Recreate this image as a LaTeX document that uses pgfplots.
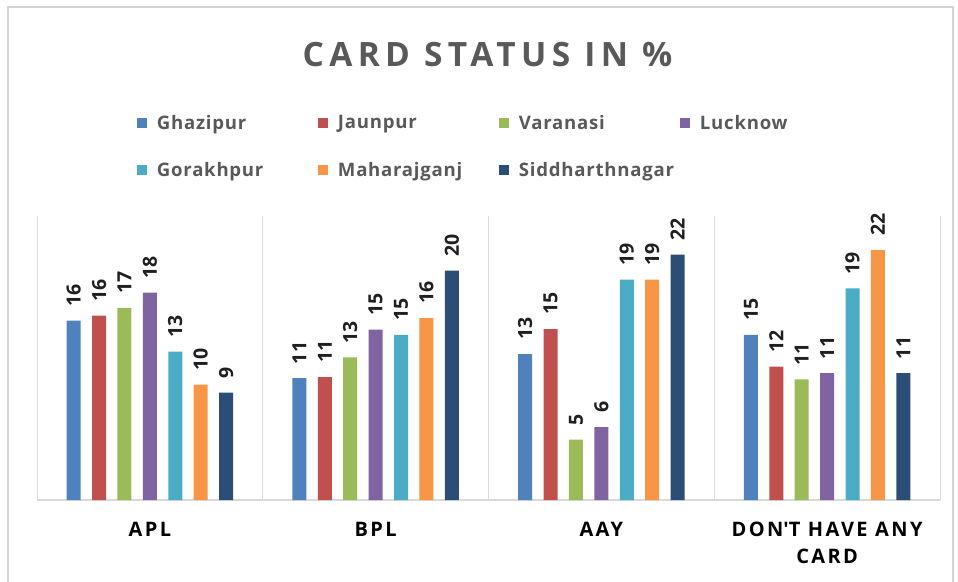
\documentclass[border=0pt]{standalone}
\usepackage{fontspec}
\setmainfont{Open Sans}
\newfontfamily\titlefont[LetterSpace=16]{Open Sans}
\newfontfamily\catfont[LetterSpace=12]{Open Sans}
\newfontfamily\legfont[LetterSpace=4]{Open Sans}
\usepackage{pgfplots}
\usepackage{pgfplotstable}
\pgfplotsset{compat=1.18}

\definecolor{cGh}{HTML}{4F81BD}
\definecolor{cJa}{HTML}{C0504D}
\definecolor{cVa}{HTML}{9BBB59}
\definecolor{cLu}{HTML}{8064A2}
\definecolor{cGo}{HTML}{4BACC6}
\definecolor{cMa}{HTML}{F79646}
\definecolor{cSi}{HTML}{2C4D75}
\definecolor{axisgray}{HTML}{D9D9D9}
\definecolor{framegray}{HTML}{D4D4D4}
\definecolor{titlegray}{HTML}{595959}
\definecolor{labelcol}{HTML}{1F1F1F}

\pgfplotstableread{
x Gh Ja Va Lu Go Ma Si
0 15.80 16.24 16.92 18.26 13.07 10.16 9.45
1 10.72 10.81 12.55 15.00 14.54 16.01 20.20
2 12.84 15.04 5.31 6.41 19.41 19.41 21.60
3 14.54 11.74 10.62 11.16 18.62 22.00 11.16
}\datatable

\begin{document}
\begin{tikzpicture}
\useasboundingbox (0,0) rectangle (958pt,581pt);
\draw[framegray, line width=1.5pt] (8pt,-5pt) -- (8pt,574pt) -- (953pt,574pt) -- (953pt,-5pt);
\node[font=\titlefont\bfseries\fontsize{33.5}{40}\selectfont, text=titlegray, anchor=base] at (487.5pt,514pt) {CARD STATUS IN \%};
\begin{axis}[
  at={(37pt,81pt)}, anchor=south west,
  scale only axis, width=903pt, height=284pt,
  xmin=-0.5, xmax=3.5, ymin=0, ymax=25,
  ybar, bar width=0.062,
  axis y line=none,
  axis x line*=bottom,
  x axis line style={draw=axisgray, line width=1.2pt},
  xtick={0,1,2,3},
  xticklabels={APL,BPL,AAY,{DON\textquotesingle T HAVE ANY\\CARD}},
  xticklabel style={font=\catfont\bfseries\fontsize{20}{26.5}\selectfont, align=center, text=black, inner sep=0pt, yshift=-22pt},
  major tick length=0pt,
  extra x ticks={-0.5,0.5,1.5,2.5,3.5},
  extra x tick labels={},
  extra x tick style={grid=major, major grid style={draw=axisgray, line width=1pt}},
  /pgf/number format/assume math mode=true,
  point meta=y,
  nodes near coords={\pgfmathprintnumber[fixed,precision=0]{\pgfplotspointmeta}},
  every node near coord/.append style={yshift=14pt, rotate=90, anchor=west, inner sep=0pt, font=\bfseries\fontsize{19.5}{22}\selectfont, text=labelcol},
  legend columns=4,
  legend cell align=left,
  legend image code/.code={\fill[#1] (0pt,-5pt) rectangle (10pt,5pt);},
  legend style={draw=none, fill=none, inner sep=0pt, outer sep=0pt,
    at={(0.11074,1.356)}, anchor=north west,
    nodes={inner sep=0pt},
    font=\legfont\bfseries\fontsize{18.6}{22}\selectfont, text=titlegray,
    /tikz/every even column/.append style={column sep=0pt},
    row sep=32pt},
]
\addplot[fill=cGh, draw=none, bar shift=-0.3375] table[x=x,y=Gh]{\datatable};
\addlegendentry{\makebox[171pt][l]{\hspace*{10pt}Ghazipur}}
\addplot[fill=cJa, draw=none, bar shift=-0.225] table[x=x,y=Ja]{\datatable};
\addlegendentry{\makebox[171pt][l]{\hspace*{10pt}Jaunpur}}
\addplot[fill=cVa, draw=none, bar shift=-0.1125] table[x=x,y=Va]{\datatable};
\addlegendentry{\makebox[171pt][l]{\hspace*{10pt}Varanasi}}
\addplot[fill=cLu, draw=none, bar shift=0] table[x=x,y=Lu]{\datatable};
\addlegendentry{\makebox[171pt][l]{\hspace*{10pt}Lucknow}}
\addplot[fill=cGo, draw=none, bar shift=0.1125] table[x=x,y=Go]{\datatable};
\addlegendentry{\makebox[171pt][l]{\hspace*{10pt}Gorakhpur}}
\addplot[fill=cMa, draw=none, bar shift=0.225] table[x=x,y=Ma]{\datatable};
\addlegendentry{\makebox[171pt][l]{\hspace*{10pt}Maharajganj}}
\addplot[fill=cSi, draw=none, bar shift=0.3375] table[x=x,y=Si]{\datatable};
\addlegendentry{\makebox[171pt][l]{\hspace*{10pt}Siddharthnagar}}
\end{axis}
\end{tikzpicture}
\end{document}
